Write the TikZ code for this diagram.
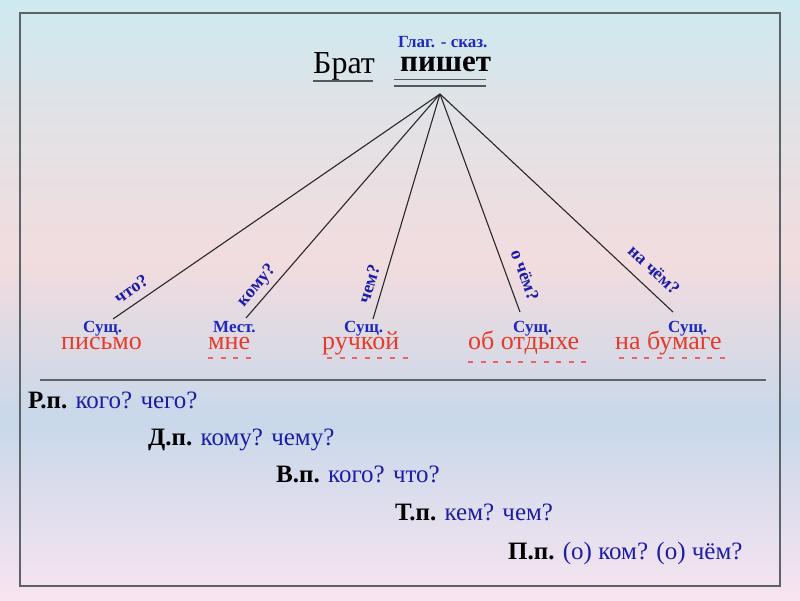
\documentclass[tikz,border=0pt]{standalone}
\usepackage{fontspec}
\setmainfont{Liberation Serif}
\definecolor{bgA}{RGB}{205,234,240}
\definecolor{bgB}{RGB}{226,226,230}
\definecolor{bgC}{RGB}{242,220,222}
\definecolor{bgD}{RGB}{200,216,234}
\definecolor{bgE}{RGB}{248,228,240}
\definecolor{framec}{RGB}{92,100,106}
\definecolor{qblue}{RGB}{28,28,168}
\definecolor{lblue}{RGB}{30,40,190}
\definecolor{wred}{RGB}{232,58,40}
\definecolor{dred}{RGB}{240,96,96}
\definecolor{treec}{RGB}{40,40,40}
\tikzset{
  txt/.style={inner sep=0pt, anchor=base west},
  mainword/.style={txt, font=\fontsize{32}{36}\selectfont, text=black},
  verbword/.style={txt, font=\fontsize{31}{36}\selectfont\bfseries, text=black},
  poslabel/.style={txt, font=\fontsize{17}{20}\selectfont\bfseries, text=lblue},
  member/.style={txt, font=\fontsize{26}{30}\selectfont, text=wred},
  qlabel/.style={inner sep=0pt, anchor=center, font=\fontsize{18}{21}\selectfont\bfseries, text=qblue},
  caseline/.style={txt, font=\fontsize{25}{30}\selectfont, text=qblue},
  branch/.style={draw=treec, line width=1.1pt},
  uline/.style={draw=framec!90!black, line width=1.8pt},
  dashline/.style={draw=dred, line width=1.5pt, dash pattern=on 5pt off 7.6pt},
  framebox/.style={draw=framec, line width=2pt}
}
\begin{document}
\begin{tikzpicture}[x=1pt,y=-1pt]
\useasboundingbox (0,0) rectangle (800,600);
% background
\shade[top color=bgA, bottom color=bgB] (0,0) rectangle (800,121);
\shade[top color=bgB, bottom color=bgC] (0,120) rectangle (800,261);
\shade[top color=bgC, bottom color=bgD] (0,260) rectangle (800,421);
\shade[top color=bgD, bottom color=bgE] (0,420) rectangle (800,600);
% frame
\draw[framebox] (20,13) rectangle (780,586);
\draw[framec, line width=2pt] (40,380) -- (766,380);

% top sentence
\node[mainword] (brat) at (313,73) {Брат};
\node[verbword] (pishet) at (400,71) {пишет};
\node[poslabel] (glag) at (398,47) {Глаг. - сказ.};
\draw[uline] (313,81) -- (373,81);
\draw[uline] (394,79.5) -- (486,79.5);
\draw[uline] (394,86) -- (486,86);

% tree
\coordinate (apex) at (440,94);
\coordinate (e1) at (113,319);
\coordinate (e2) at (246,318);
\coordinate (e3) at (373,319);
\coordinate (e4) at (520,312);
\coordinate (e5) at (673,312);
\draw[branch] (apex) -- (e1);
\draw[branch] (apex) -- (e2);
\draw[branch] (apex) -- (e3);
\draw[branch] (apex) -- (e4);
\draw[branch] (apex) -- (e5);

\node[qlabel, rotate=34.5] (q1) at (131,289) {что?};
\node[qlabel, rotate=49] (q2) at (257,286) {кому?};
\node[qlabel, rotate=73] (q3) at (369,284) {чем?};
\node[qlabel, rotate=-70] (q4) at (525,275) {о чём?};
\node[qlabel, rotate=-43] (q5) at (654,270) {на чём?};

% part-of-speech labels
\node[poslabel] (p1) at (83,332) {Сущ.};
\node[poslabel] (p2) at (213,332) {Мест.};
\node[poslabel] (p3) at (344,332) {Сущ.};
\node[poslabel] (p4) at (513,332) {Сущ.};
\node[poslabel] (p5) at (668,332) {Сущ.};

% members
\node[member] (w1) at (61,349) {письмо};
\node[member] (w2) at (208,349) {мне};
\node[member] (w3) at (322,349) {ручкой};
\node[member] (w4) at (468,349) {об отдыхе};
\node[member] (w5) at (615,349) {на бумаге};
\draw[dashline] (208,358) -- (251,358);
\draw[dashline] (327,358) -- (408,358);
\draw[dashline] (468,362) -- (591,362);
\draw[dashline] (619,358) -- (728,358);

% cases
\node[caseline] (c1) at (28,408) {\textcolor{black}{\bfseries Р.п.} кого? чего?};
\node[caseline] (c2) at (148,445) {\textcolor{black}{\bfseries Д.п.} кому? чему?};
\node[caseline] (c3) at (276,482) {\textcolor{black}{\bfseries В.п.} кого? что?};
\node[caseline] (c4) at (395,520) {\textcolor{black}{\bfseries Т.п.} кем? чем?};
\node[caseline] (c5) at (508,559) {\textcolor{black}{\bfseries П.п.} (о) ком? (о) чём?};
\end{tikzpicture}
\end{document}
